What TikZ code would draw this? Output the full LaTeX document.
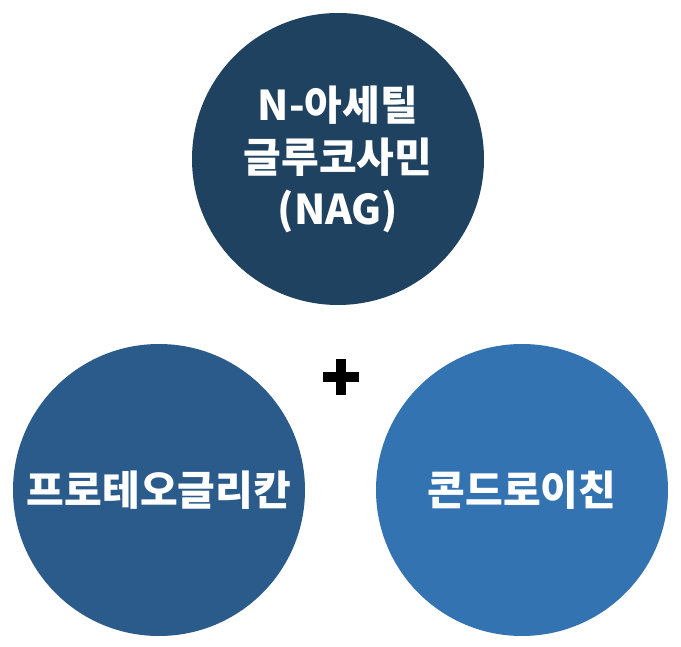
\documentclass[tikz,border=0pt]{standalone}
\usepackage{fontspec}
\setmainfont{Noto Sans CJK KR}
\definecolor{nagnavy}{HTML}{1F4260}
\definecolor{proteoblue}{HTML}{2B5B8B}
\definecolor{chondroblue}{HTML}{3473B1}

\begin{document}
\begin{tikzpicture}[
  x=1pt,
  y=-1pt,
  line join=round,
  blob/.style={circle,draw=none,minimum size=292pt,inner sep=0pt,
    text=white,align=center,font=\fontsize{41}{52}\selectfont\bfseries},
  plusbar/.style={draw=black,line width=10pt}
]
  % Page frame in pixel coordinates of the reference.
  \useasboundingbox (0,0) rectangle (681,647);

  % Three components of the joint supplement.
  \node[blob,fill=nagnavy] (nag) at (338,159) {N-아세틸\\글루코사민\\(NAG)};
  \node[blob,fill=proteoblue] (proteo) at (159,490) {프로테오글리칸};
  \node[blob,fill=chondroblue] (chondro) at (522,490) {콘드로이친};

  % Plus sign between the lower pair.
  \coordinate (plus) at (341,377);
  \draw[plusbar] ([xshift=-18pt]plus) -- ([xshift=18pt]plus);
  \draw[plusbar] ([yshift=-18pt]plus) -- ([yshift=18pt]plus);
\end{tikzpicture}
\end{document}
